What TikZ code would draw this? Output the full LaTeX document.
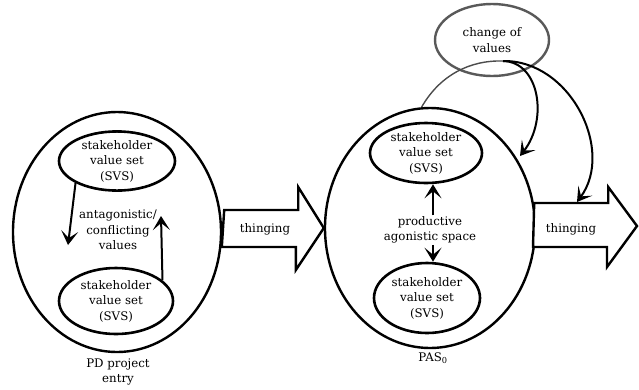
\documentclass[tikz,border=0pt]{standalone}
\usepackage{fontspec}
\setmainfont{DejaVu Serif}
\usetikzlibrary{shapes.geometric,arrows.meta,positioning}

\tikzset{
  bigoval/.style={draw, ellipse, line width=2.4pt, inner sep=0pt, minimum width=210pt, minimum height=240pt},
  svs/.style={draw, ellipse, line width=2.6pt, inner sep=0pt, align=center},
  lbl/.style={align=center, inner sep=1pt},
  sketch/.style={line width=2pt, -{Stealth[length=14pt,width=17pt,inset=7pt]}},
  thingbox/.style={draw, line width=2.4pt, fill=white, line join=miter},
}

\begin{document}
\begin{tikzpicture}[x=1pt,y=-1pt,font=\fontsize{11.8}{15.5}\selectfont]
\useasboundingbox (0,0) rectangle (639,389);

% PD project entry
\node[bigoval, minimum width=208pt] (pd) at (117,232) {};
\node[svs, minimum width=116pt, minimum height=58pt] (svsa) at (117,161) {stakeholder\\value set\\(SVS)};
\node[svs, minimum width=114pt, minimum height=66pt] (svsb) at (116,301) {stakeholder\\value set\\(SVS)};
\node[lbl] (antag) at (118,230) {antagonistic/\\conflicting\\values};
\node[lbl] (pdlbl) at (118,372) {PD project\\entry};
\coordinate (adown) at (68,245);
\coordinate (aup) at (161,216);
\draw[sketch] (svsa.208) -- (adown);
\draw[sketch] (svsb.24) -- (aup);

% PAS0
\node[bigoval] (pas) at (430,228) {};
\node[svs, minimum width=112pt, minimum height=60pt] (svsc) at (426,153) {stakeholder\\value set\\(SVS)};
\node[svs, minimum width=106pt, minimum height=70pt] (svsd) at (427,298) {stakeholder\\value set\\(SVS)};
\node[lbl] (pagon) at (430,230) {productive\\agonistic space};
\node[lbl] (paslbl) at (433,358) {PAS\textsubscript{0}};
\draw[sketch] ([xshift=3pt]pagon.north) -- ([xshift=3pt]pagon.north |- svsc.south);
\draw[sketch] ([xshift=3pt]pagon.south) -- ([xshift=3pt]pagon.south |- svsd.north);

% thinging arrows
\coordinate (outend) at (637,226);
\draw[thingbox] (pd.east) ++(2,-22) -- ++(74,0) -- ++(0,-23) -- (pas.west)
  -- ++(-28,42) -- ++(0,-23) -- ++(-74,0) -- cycle;
\draw[thingbox] (pas.east) ++(-2,-25) -- ++(74,0) -- ++(0,-16) -- (outend)
  -- ++(-30,41) -- ++(0,-20) -- ++(-74,0) -- cycle;
\node[lbl] (ta) at (265,229) {thinging};
\node[lbl] (tb) at (571,229) {thinging};

% change of values
\node[draw=black!65, ellipse, line width=2.4pt, inner sep=0pt, align=center,
  minimum width=114pt, minimum height=72pt] (cov) at (492,40) {change of\\values};
\coordinate (branch) at (503,61);
\draw[line width=1.4pt, black!70] (pas.94) .. controls (440,75) and (470,60) .. (branch);
\draw[sketch] (branch) .. controls (540,62) and (548,120) .. (520,156);
\draw[sketch] (branch) .. controls (570,60) and (615,150) .. (577,202);
\end{tikzpicture}
\end{document}
